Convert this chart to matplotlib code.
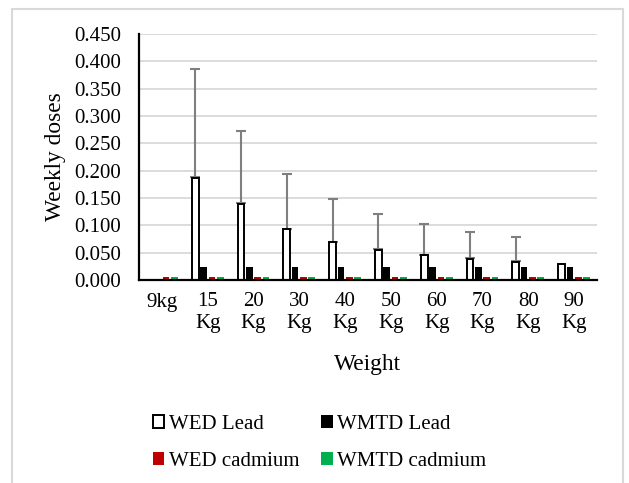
import matplotlib.pyplot as plt
import numpy as np
from matplotlib.patches import Rectangle, Patch

plt.rcParams['font.family'] = ['Liberation Serif', 'DejaVu Serif']

weights = ['9kg', '15\nKg', '20\nKg', '30\nKg', '40\nKg', '50\nKg', '60\nKg', '70\nKg', '80\nKg', '90\nKg']
wed_lead = [0.0, 0.187, 0.139, 0.093, 0.069, 0.055, 0.045, 0.039, 0.0335, 0.030]
wed_lead_err = [0.0, 0.199, 0.134, 0.100, 0.080, 0.066, 0.058, 0.049, 0.045, 0.0]
wmtd_lead = [0.0, 0.023, 0.023, 0.023, 0.023, 0.023, 0.023, 0.023, 0.023, 0.023]
wed_cadmium = [0.0055] * 10
wmtd_cadmium = [0.0055] * 10

fig = plt.figure(figsize=(6.29, 4.83), dpi=100)
ax = fig.add_axes([139 / 629, 1 - 280 / 483, (597 - 139) / 629, (280 - 34) / 483])

x = np.arange(len(weights))
step = 0.182
w = 0.145

ax.bar(x - 1.5 * step, wed_lead, w, color='white', edgecolor='black', linewidth=1.4, zorder=3)
ax.bar(x - 0.5 * step, wmtd_lead, w, color='black', zorder=3)
ax.bar(x + 0.5 * step, wed_cadmium, w, color='#c00000', zorder=3)
ax.bar(x + 1.5 * step, wmtd_cadmium, w, color='#00b050', zorder=3)

# plus-only error bars on WED Lead
err = np.array(wed_lead_err)
has = err > 0
ax.errorbar((x - 1.5 * step)[has], np.array(wed_lead)[has] + 0.001,
            yerr=[np.zeros(has.sum()), err[has] - 0.001], fmt='none',
            ecolor='#7f7f7f', elinewidth=1.5, capsize=3.8, capthick=1.5, zorder=2)

ax.set_xlim(-0.5, len(weights) - 0.5)
ax.set_ylim(0, 0.45)
ax.set_yticks(np.arange(0, 0.451, 0.05))
ax.set_yticklabels(['%.3f' % v for v in np.arange(0, 0.451, 0.05)])
ax.set_xticks(x)
ax.set_xticklabels(weights)
ax.tick_params(axis='both', length=0, labelsize=15)
ax.tick_params(axis='y', pad=13)
ax.tick_params(axis='x', pad=9)
ax.grid(axis='y', color='#d9d9d9', linewidth=1.3, zorder=0)
ax.set_axisbelow(True)
for s in ['top', 'right']:
    ax.spines[s].set_visible(False)
for s in ['left', 'bottom']:
    ax.spines[s].set_linewidth(1.6)
    ax.spines[s].set_zorder(5)

ax.set_ylabel('Weekly doses', fontsize=16.8, labelpad=6)
ax.set_xlabel('Weight', fontsize=16.8, labelpad=15)

handles = [Patch(facecolor='white', edgecolor='black', linewidth=1.4, label='WED Lead'),
           Patch(facecolor='#c00000', label='WED cadmium'),
           Patch(facecolor='black', label='WMTD Lead'),
           Patch(facecolor='#00b050', label='WMTD cadmium')]
fig.legend(handles=handles, ncol=2, loc='upper left', bbox_to_anchor=(134 / 629, 1 - 396 / 483),
           frameon=False, fontsize=15, handlelength=0.55, handleheight=0.55,
           handletextpad=0.22, columnspacing=1.05, labelspacing=0.88)

fig.add_artist(Rectangle((12 / 629, -0.1), (623 - 12) / 629, 1.1 - 9 / 483,
                         transform=fig.transFigure, fill=False, edgecolor='#d9d9d9', linewidth=1.5))

fig.savefig('out.png', dpi=100)
